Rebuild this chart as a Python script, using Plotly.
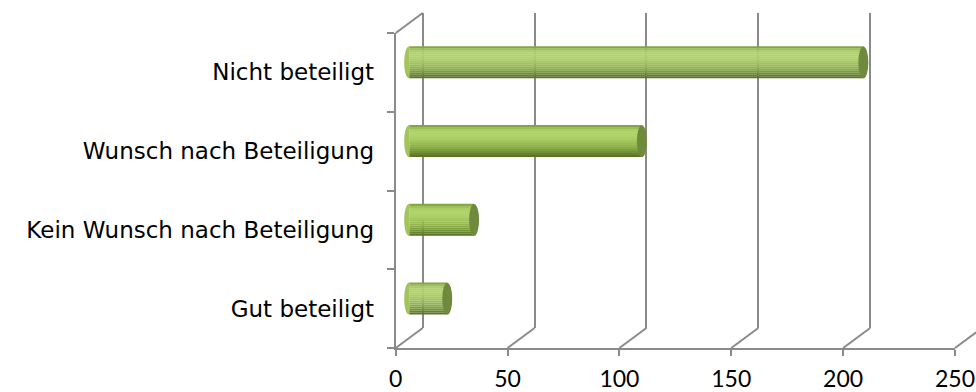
import plotly.graph_objects as go

# ---------------- data ----------------
categories = ["Gut beteiligt", "Kein Wunsch nach Beteiligung",
              "Wunsch nach Beteiligung", "Nicht beteiligt"]
values = [17, 29, 104, 203]
x_ticks = [0, 50, 100, 150, 200, 250]
x_tick_labels = ["0", "50", "100", "150", "200", "250"]

# ---------------- geometry / style ----------------
W, H = 976, 392
FX0, FX1 = 395.7, 955.0      # pixel x of 0 and 250 on the front floor
FYB, FYT = 348.0, 33.0       # pixel y of bottom / top of the front left wall
DX, DY = 27.0, 20.0          # depth offset of back wall
XMAX = 250
SCALE = (FX1 - FX0) / XMAX
GRAY = "#8a8a8a"
LW = 2

def px(x):
    return x / W

def py(y):
    return (H - y) / H

bar_frac = 0.406
strip_colors = ["#86a444", "#9dbf57", "#abcd66", "#b1d36c", "#b2d46d", "#b0d26b",
                "#acce67", "#a7c962", "#a1c35c", "#9abc55", "#93b44e", "#8aab47",
                "#7f9f3f", "#739237", "#67832f", "#5a7428"]

positions = list(range(len(categories)))   # numeric slots of the categories

fig = go.Figure()

# invisible traces so every subplot exists
fig.add_trace(go.Scatter(x=values, y=categories, mode="markers",
                         marker=dict(opacity=0), hoverinfo="skip",
                         showlegend=False, xaxis="x", yaxis="y"))
fig.add_trace(go.Scatter(x=[0], y=[0], mode="markers", marker=dict(opacity=0),
                         hoverinfo="skip", showlegend=False, xaxis="x2", yaxis="y2"))

# cylinder bodies made of horizontal shading strips
n = len(strip_colors)
w = bar_frac / n
for k, c in enumerate(strip_colors):
    fig.add_trace(go.Bar(
        x=values, y=positions, orientation="h",
        width=w + 0.003, offset=bar_frac / 2 - (k + 1) * w,
        marker=dict(color=c, line=dict(width=0)),
        hoverinfo="skip", showlegend=False, xaxis="x3", yaxis="y3"))

shapes = []
cap_half = 5.0 / SCALE
hb = bar_frac / 2
kc = cap_half * 4.0 / 3.0
for i, v in zip(positions, values):
    # left rounded end (half ellipse)
    shapes.append(dict(type="path", xref="x3", yref="y3", layer="above",
                       path=f"M 0,{i - hb} C {-kc},{i - hb} {-kc},{i + hb} 0,{i + hb} Z",
                       fillcolor="#a2c45c", line=dict(width=0)))
    # right end cap
    shapes.append(dict(type="circle", xref="x3", yref="y3", layer="above",
                       x0=v - cap_half, x1=v + cap_half,
                       y0=i - hb, y1=i + hb,
                       fillcolor="#6f8a3c", line=dict(width=0)))

# floor diagonals from front ticks to back wall
for t in x_ticks:
    xf = FX0 + t * SCALE
    shapes.append(dict(type="line", xref="paper", yref="paper",
                       x0=px(xf), y0=py(FYB), x1=px(xf + DX), y1=py(FYB - DY),
                       line=dict(color=GRAY, width=LW)))
# top-left wall diagonal
shapes.append(dict(type="line", xref="paper", yref="paper",
                   x0=px(FX0), y0=py(FYT), x1=px(FX0 + DX), y1=py(FYT - DY),
                   line=dict(color=GRAY, width=LW)))

back_x0 = FX0 + DX - SCALE * 1.0
back_max = (W - (FX0 + DX)) / SCALE
PAD3 = 4.0   # room left of zero in the bar plane for the rounded ends

fig.update_layout(
    width=W, height=H,
    margin=dict(l=0, r=0, t=0, b=0, autoexpand=False),
    paper_bgcolor="white", plot_bgcolor="rgba(0,0,0,0)",
    barmode="overlay",
    shapes=shapes,
    xaxis=dict(domain=[px(FX0), px(FX1)], range=[0, XMAX], anchor="y",
               automargin=False,
               tickmode="array", tickvals=x_ticks, ticktext=x_tick_labels,
               ticks="outside", ticklen=6, tickwidth=LW, tickcolor=GRAY,
               showline=True, linecolor=GRAY, linewidth=LW,
               showgrid=False, zeroline=False, ticklabelstandoff=3,
               tickfont=dict(family="Lato", size=23, color="black")),
    yaxis=dict(domain=[py(FYB), py(FYT)], anchor="x", type="category",
               automargin=False,
               categoryorder="array", categoryarray=categories,
               range=[-0.5, len(categories) - 0.5], tickson="boundaries",
               ticks="outside", ticklen=7, tickwidth=LW, tickcolor=GRAY,
               showline=True, linecolor=GRAY, linewidth=LW,
               showgrid=False, zeroline=False, ticklabelstandoff=15,
               tickfont=dict(family="DejaVu Sans", size=23, color="black")),
    xaxis2=dict(domain=[px(back_x0), 1.0], range=[-1.0, back_max], anchor="y2",
                automargin=False,
                tickmode="array", tickvals=x_ticks, showticklabels=False,
                ticks="", showline=False, zeroline=False,
                showgrid=True, gridcolor=GRAY, gridwidth=LW),
    yaxis2=dict(domain=[py(FYB - DY), py(FYT - DY)], anchor="x2", range=[0, 1],
                automargin=False, visible=False, showgrid=False),
    xaxis3=dict(domain=[px(FX0 + DX / 2 - PAD3 * SCALE), px(FX1 + DX / 2)],
                range=[-PAD3, XMAX],
                automargin=False, anchor="y3", visible=False),
    yaxis3=dict(domain=[py(FYB - DY / 2), py(FYT - DY / 2)], anchor="x3",
                automargin=False, range=[-0.5, len(categories) - 0.5],
                visible=False),
)

fig.write_html("out.html", config={"displayModeBar": False})
